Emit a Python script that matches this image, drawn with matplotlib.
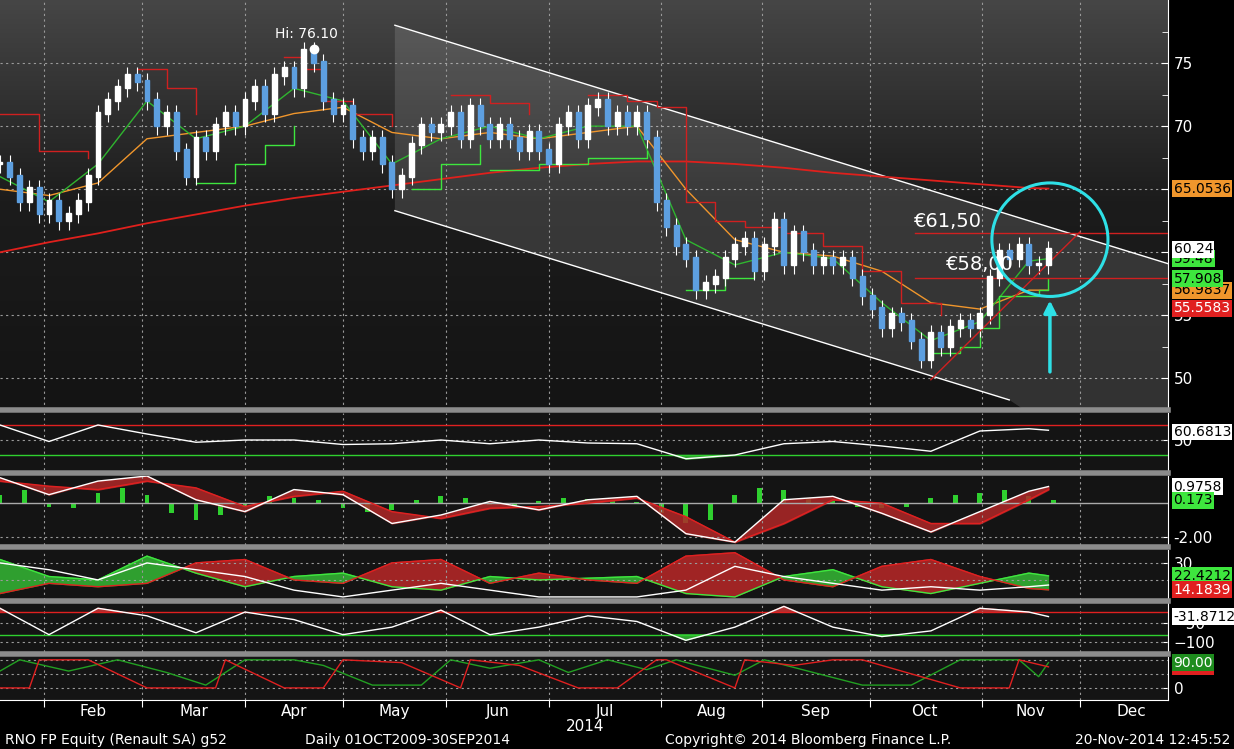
import numpy as np
import matplotlib
matplotlib.use("Agg")
import matplotlib.pyplot as plt
from matplotlib.patches import Ellipse, Polygon

# ---- data (x = trading-day index, ~4.9 px per day) ----
month_starts = [9, 29, 50, 70, 91, 112, 135, 155.5, 177.5, 200.5, 220.4]
month_names = ["Feb", "Mar", "Apr", "May", "Jun", "Jul", "Aug", "Sep", "Oct", "Nov", "Dec"]

candle_idx = list(range(0, 216, 2))
closes = [67, 66, 64, 65, 63, 64, 62.5, 63, 64, 66, 71, 72, 73, 74, 73.5, 72, 70, 71, 68, 66,
          69, 68, 70, 71, 70, 72, 73, 71, 74, 74.5, 73, 76, 75, 72, 71, 71.5, 69, 68, 69, 67,
          65, 66, 68.5, 70, 69.5, 70, 71, 69, 71.5, 70, 69, 70, 69, 68, 69.5, 68, 67, 70, 71, 69,
          71.5, 72, 70, 71, 70, 71, 69, 64, 62, 60.5, 59.5, 57, 57.5, 58, 59.5, 60.5, 61, 58.5, 60.5, 62.5,
          59, 61.5, 60, 59, 59.5, 59, 59.5, 58, 56.5, 55.5, 54, 55, 54.5, 53, 51.5, 53.5, 52.5, 54, 54.5, 54,
          55, 58, 60, 59.5, 60.5, 59, 59, 60.2]

ma_idx = [0, 10, 20, 30, 40, 50, 60, 70, 80, 90, 100, 110, 120, 130, 140, 150, 160, 170, 180, 190, 200, 210, 214]
ma_fast = [66, 64, 67, 72, 69, 70, 73, 72, 67, 69, 70, 69, 70, 70, 61, 59, 60, 59.5, 56, 53, 54.5, 59.3, 59.5]
ma_mid = [65, 64.5, 65.5, 69, 69.5, 70, 71, 71.5, 69.5, 69, 69.5, 69, 69.5, 70, 65, 61, 60, 59.7, 58.5, 56, 55.5, 57, 57]
ma_200 = [60, 60.8, 61.5, 62.3, 63, 63.7, 64.3, 64.8, 65.3, 65.8, 66.3, 66.7, 67, 67.2, 67.2, 67, 66.7,
          66.3, 66, 65.7, 65.4, 65.1, 65.05]

stop_red_x = [0, 8, 18, np.nan, 28, 34, 40, np.nan, 58, 62, 66, 72, 80, np.nan, 92, 100, 108, np.nan,
              120, 128, 134, 140, 146, 152, 160, 168, 176, 184, 192]
stop_red_y = [71, 68, 67.5, np.nan, 74.5, 73, 71, np.nan, 75.5, 74.5, 72, 71, 70, np.nan, 72.5, 71.8, 71,
              np.nan, 72.5, 72, 71.5, 64, 62.5, 62, 61.5, 60.5, 58.5, 56, 55]
stop_grn_x = [40, 48, 54, 60, np.nan, 84, 90, 98, np.nan, 100, 110, 120, 132, np.nan, 140, 148, 154,
              np.nan, 190, 196, 200, 204, 212, 214]
stop_grn_y = [65.5, 67, 68.5, 70, np.nan, 65, 67, 68.5, np.nan, 66.5, 67, 67.5, 68, np.nan, 57, 58, 58.5,
              np.nan, 52, 52.5, 54, 56.5, 57, 57.9]

osc_idx = [0, 10, 20, 30, 40, 50, 60, 70, 80, 90, 100, 110, 120, 130, 140, 150, 160, 170, 180, 190, 200, 210, 214]
rsi = [70, 48, 70, 58, 47, 50, 50, 44, 45, 50, 45, 50, 46, 45, 25, 30, 45, 48, 42, 35, 62, 65, 63]
macd = [1.5, 0.5, 1.3, 1.6, 0.2, -0.5, 0.8, 0.5, -1.2, -0.7, 0.1, -0.4, 0.2, 0.4, -1.8, -2.3, 0.2, 0.4,
        -0.6, -1.7, -0.5, 0.7, 0.98]
macd_sig = [1.3, 1.0, 0.8, 1.3, 0.9, -0.2, 0.4, 0.7, -0.5, -0.9, -0.3, -0.2, 0.0, 0.3, -0.8, -2.3, -1.2,
            0.2, 0.0, -1.2, -1.2, 0.2, 0.8]
hist_idx = list(range(0, 216, 5))
hist = [0.5, 0.8, -0.2, -0.3, 0.6, 0.9, 0.5, -0.6, -1.0, -0.7, -0.2, 0.4, 0.3, 0.2, -0.3, -0.5, -0.4, 0.2,
        0.4, 0.3, -0.1, -0.2, 0.1, 0.3, 0.25, 0.1, 0.05, -0.6, -1.2, -1.0, 0.5, 0.9, 0.8, 0.3, 0.1, -0.2,
        -0.3, -0.2, 0.3, 0.5, 0.6, 0.8, 0.4, 0.17]
di_plus = [32, 22, 20, 34, 24, 16, 22, 24, 16, 14, 22, 20, 21, 22, 12, 10, 22, 26, 16, 12, 18, 24, 22.4]
di_minus = [12, 18, 16, 18, 30, 32, 20, 18, 30, 32, 18, 24, 20, 18, 34, 36, 20, 16, 28, 32, 22, 15, 14.2]
adx = [30, 26, 20, 30, 26, 22, 14, 10, 14, 18, 14, 10, 10, 10, 14, 28, 22, 18, 14, 16, 14, 16, 17]
willr = [-10, -80, -10, -30, -75, -20, -40, -80, -60, -15, -80, -60, -30, -45, -95, -60, -5, -60, -85,
         -70, -10, -20, -32]
aroon_up_x = [0, 4, 14, 24, 34, 42, 50, 60, 66, 76, 86, 92, 100, 110, 116, 124, 132, 138, 150, 156, 166,
              176, 186, 196, 208, 212, 214]
aroon_up_y = [60, 100, 60, 100, 55, 10, 100, 100, 80, 10, 10, 100, 70, 100, 55, 100, 65, 100, 45, 100,
              55, 10, 10, 100, 100, 40, 90]
aroon_dn_x = [0, 6, 8, 18, 30, 44, 46, 58, 66, 70, 82, 94, 96, 106, 118, 126, 134, 136, 150, 152, 162,
              170, 176, 186, 196, 206, 208, 214]
aroon_dn_y = [0, 0, 100, 100, 0, 0, 100, 0, 0, 100, 90, 0, 100, 80, 0, 0, 100, 100, 0, 100, 80, 100,
              100, 50, 0, 0, 100, 75]

# ---- figure ----
fig = plt.figure(figsize=(12.34, 7.49), dpi=100, facecolor="black")
W, H = 1234.0, 749.0
right = 1168 / W


def panel(top, bottom):
    ax = fig.add_axes([0, 1 - bottom / H, right, (bottom - top) / H])
    ax.set_facecolor("#141414")
    ax.set_xlim(0, 238.4)
    for s in ax.spines.values():
        s.set_visible(False)
    ax.spines["right"].set_visible(True)
    ax.spines["right"].set_color("white")
    ax.yaxis.tick_right()
    ax.tick_params(axis="y", colors="white", labelsize=11, length=5, direction="in", pad=4)
    ax.set_xticks([])
    for m in month_starts:
        ax.axvline(m, color="#9a9a9a", lw=0.8, ls=(0, (2, 3)))
    return ax


# main price panel
ax = panel(0, 410)
ax.set_ylim(48.1, 80)
grad = np.linspace(0, 1, 256).reshape(-1, 1)
ax.imshow(grad, extent=[0, 238.4, 48.1, 80], aspect="auto", cmap=plt.cm.colors.LinearSegmentedColormap.from_list(
    "bg", ["#141414", "#1c1c1c", "#464646"]), origin="lower", zorder=0)
ax.set_yticks([50, 55, 60, 65, 70, 75])
ax.set_yticks(np.arange(47.5, 80, 2.5), minor=True)
ax.tick_params(axis="y", which="minor", colors="white", length=4, direction="in")
for v in [50, 55, 60, 65, 70, 75]:
    ax.axhline(v, color="#9a9a9a", lw=0.8, ls=(0, (2, 3)), zorder=1)

# channel
chan = Polygon([[80.6, 78.0], [238.4, 59.1], [238.4, 40.0], [206, 48.3], [80.6, 63.3]],
               closed=True, facecolor="white", alpha=0.13, edgecolor="none", zorder=1)
ax.add_patch(chan)
ax.plot([80.6, 238.4], [78.0, 59.1], color="white", lw=1, zorder=3)
ax.plot([80.6, 206], [63.3, 48.3], color="white", lw=1, zorder=3)

ax.plot(ma_idx, ma_200, color="#e0201c", lw=1.3, zorder=3)
ax.plot(ma_idx, ma_mid, color="#f0962c", lw=1, zorder=3)
ax.plot(ma_idx, ma_fast, color="#2fb52f", lw=1, zorder=3)
ax.step(stop_red_x, stop_red_y, where="post", color="#d02020", lw=1, zorder=3)
ax.step(stop_grn_x, stop_grn_y, where="post", color="#3ee63e", lw=1, zorder=3)

opens = [closes[0]] + closes[:-1]
for x, o, c in zip(candle_idx, opens, closes):
    col = "white" if c >= o else "#5d9fe0"
    ax.vlines(x, min(o, c) - 0.7, max(o, c) + 0.7, color="white", lw=0.8, zorder=4)
    ax.bar(x, abs(c - o) + 0.15, bottom=min(o, c), width=1.0, color=col, edgecolor=col, zorder=5)

ax.plot([190, 220.4], [49.9, 61.6], color="#d02020", lw=1, zorder=4)
ax.plot([186.7, 238.4], [61.5, 61.5], color="#d02020", lw=1, zorder=4)
ax.plot([186.7, 238.4], [58.0, 58.0], color="#d02020", lw=1, zorder=4)
ax.text(186.5, 62.0, "€61,50", color="white", fontsize=14, zorder=6)
ax.text(193, 58.6, "€58,00", color="white", fontsize=14, zorder=6)
ax.add_patch(Ellipse((214.3, 61.0), 23.7, 9.0, fill=False, edgecolor="#2ee0e6", lw=2.2, zorder=7))
ax.annotate("", xy=(214.3, 56.4), xytext=(214.3, 50.3),
            arrowprops=dict(arrowstyle="-|>", color="#2ee0e6", lw=2.5, mutation_scale=18), zorder=7)
ax.plot(64, 76.1, "o", color="white", ms=6, zorder=7)
ax.text(62.5, 77.0, "Hi: 76.10", color="white", fontsize=10, ha="center", zorder=7)


def tag(ax, y, text, fc, tc="black"):
    ax.annotate(text, xy=(1.0, y), xycoords=("axes fraction", "data"), xytext=(4, 0),
                textcoords="offset points", va="center", ha="left", fontsize=10, color=tc,
                bbox=dict(boxstyle="square,pad=0.1", fc=fc, ec="none"), annotation_clip=False)


tag(ax, 65.05, "65.0536", "#f0962c")
tag(ax, 59.48, "59.48", "#3ee63e")
tag(ax, 60.24, "60.24", "white")
tag(ax, 56.98, "56.9837", "#f0962c")
tag(ax, 57.91, "57.908", "#3ee63e")
tag(ax, 55.56, "55.5583", "#e02020", "white")

# RSI
a1 = panel(413, 470)
a1.set_ylim(10, 86)
a1.set_yticks([50])
a1.axhline(50, color="#9a9a9a", lw=0.8, ls=(0, (2, 3)))
a1.axhline(70, color="#e02020", lw=1)
a1.axhline(30, color="#2fd02f", lw=1)
a1.plot(osc_idx, rsi, color="white", lw=1)
r = np.array(rsi, dtype=float)
a1.fill_between(osc_idx, r, 70, where=r > 70, color="#c03030", interpolate=True)
a1.fill_between(osc_idx, r, 30, where=r < 30, color="#2f9f2f", interpolate=True)
tag(a1, 60.68, "60.6813", "white")

# MACD
a2 = panel(476, 545)
a2.set_ylim(-2.47, 1.6)
a2.set_yticks([-2.0])
a2.set_yticklabels(["-2.00"])
a2.axhline(-2, color="#9a9a9a", lw=0.8, ls=(0, (2, 3)))
a2.axhline(0, color="#aaaaaa", lw=1)
a2.bar(hist_idx, hist, width=1.0, color="#2fd02f")
a2.fill_between(osc_idx, macd, macd_sig, color="#b02828", alpha=0.85)
a2.plot(osc_idx, macd_sig, color="#e02020", lw=1)
a2.plot(osc_idx, macd, color="white", lw=1)
tag(a2, 0.9758, "0.9758", "white")
tag(a2, 0.173, "0.173", "#3ee63e")

# DMI
a3 = panel(550, 600)
a3.set_ylim(8.2, 37.6)
a3.set_yticks([30])
for v in [20, 30]:
    a3.axhline(v, color="#9a9a9a", lw=0.8, ls=(0, (2, 3)))
p, m = np.array(di_plus, float), np.array(di_minus, float)
a3.fill_between(osc_idx, p, m, where=p >= m, color="#2f9f2f", interpolate=True)
a3.fill_between(osc_idx, p, m, where=p < m, color="#a02424", interpolate=True)
a3.plot(osc_idx, p, color="#3ee63e", lw=1)
a3.plot(osc_idx, m, color="#e02020", lw=1)
a3.plot(osc_idx, adx, color="white", lw=1)
tag(a3, 22.42, "22.4212", "#3ee63e")
tag(a3, 14.18, "14.1839", "#e02020", "white")

# Williams %R
a4 = panel(603, 652)
a4.set_ylim(-126, 4)
a4.set_yticks([-50, -100])
for v in [-50, -100]:
    a4.axhline(v, color="#9a9a9a", lw=0.8, ls=(0, (2, 3)))
a4.axhline(-20, color="#e02020", lw=1)
a4.axhline(-80, color="#2fd02f", lw=1)
w = np.array(willr, float)
a4.fill_between(osc_idx, w, -20, where=w > -20, color="#b03030", interpolate=True)
a4.fill_between(osc_idx, w, -80, where=w < -80, color="#2f9f2f", interpolate=True)
a4.plot(osc_idx, w, color="white", lw=1)
tag(a4, -31.87, "-31.8712", "white")

# Aroon
a5 = panel(657, 700)
a5.set_ylim(-43, 110)
a5.set_yticks([0])
for v in [0, 50, 100]:
    a5.axhline(v, color="#9a9a9a", lw=0.8, ls=(0, (2, 3)))
a5.plot(aroon_up_x, aroon_up_y, color="#22a022", lw=1)
a5.plot(aroon_dn_x, aroon_dn_y, color="#e02020", lw=1)
tag(a5, 75, "75.00", "#e02020", "white")
tag(a5, 90, "90.00", "#1e8c1e", "white")
a5.spines["bottom"].set_visible(True)
a5.spines["bottom"].set_color("white")
a5.set_xticks(month_starts)
a5.set_xticklabels([])
a5.tick_params(axis="x", colors="white", length=5, direction="out")
label_pos = [19, 39.5, 60, 80.5, 101.5, 123.5, 145.2, 166.5, 188.7, 210.4, 231]
for lp, name in zip(label_pos, month_names):
    a5.text(lp, -0.1, name, transform=a5.get_xaxis_transform(), color="white",
            fontsize=11, ha="center", va="top")
a5.text(119.5, -0.45, "2014", transform=a5.get_xaxis_transform(), color="white",
        fontsize=11, ha="center", va="top")

# separators
for yb in [410, 473, 547, 601, 654]:
    fig.add_artist(plt.Line2D([0, right], [1 - yb / H, 1 - yb / H], color="#8c8c8c", lw=4))

fig.text(5 / W, 1 - 740 / H, "RNO FP Equity (Renault SA) g52", color="white", fontsize=10, va="center")
fig.text(305 / W, 1 - 740 / H, "Daily 01OCT2009-30SEP2014", color="white", fontsize=10, va="center")
fig.text(665 / W, 1 - 740 / H, "Copyright© 2014 Bloomberg Finance L.P.", color="white", fontsize=10, va="center")
fig.text(1230 / W, 1 - 740 / H, "20-Nov-2014 12:45:52", color="white", fontsize=10, va="center", ha="right")

fig.savefig("out.png", dpi=100, facecolor="black")
